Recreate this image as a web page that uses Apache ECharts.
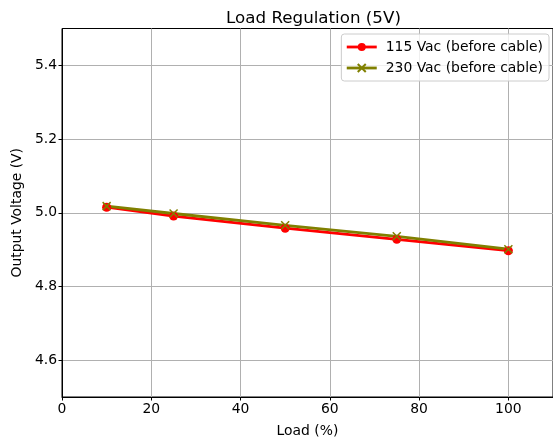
<!DOCTYPE html>
<html><head><meta charset="utf-8">
<script src="https://cdn.jsdelivr.net/npm/echarts@6/dist/echarts.min.js"></script>
<style>html,body{margin:0;padding:0;background:#fff}#c{width:553px;height:443px}</style>
</head><body><div id="c"></div>
<script>
const loads = [10, 25, 50, 75, 100];
const v115 = [5.015, 4.991, 4.958, 4.928, 4.897];
const v230 = [5.018, 4.998, 4.966, 4.936, 4.901];
const yTicks = [4.6, 4.8, 5.0, 5.2, 5.4];
const xTicks = [0, 20, 40, 60, 80, 100];
const names = ['115 Vac (before cable)', '230 Vac (before cable)'];

const font = 'DejaVu Sans';
const fs = 13.9;
const chart = echarts.init(document.getElementById('c'), null, {renderer: 'canvas'});
const xPath = 'path://M0,0L10,10M10,0L0,10';
chart.setOption({
  animation: false,
  title: {text: 'Load Regulation (5V)', left: 308.5, top: 5, textAlign: 'center',
    textStyle: {fontFamily: font, fontSize: 16.7, fontWeight: 'normal', color: '#000'}},
  grid: {left: 62, top: 28.5, width: 494, height: 368.5, containLabel: false,
    show: true, borderColor: '#000', borderWidth: 1, backgroundColor: 'transparent'},
  legend: {
    right: 4, top: 34, orient: 'vertical', itemWidth: 30, itemHeight: 10, itemGap: 7,
    padding: [6, 6, 6, 4], borderColor: '#cccccc', borderWidth: 1, borderRadius: 3,
    backgroundColor: 'rgba(255,255,255,0.8)',
    lineStyle: {width: 2.8},
    textStyle: {fontFamily: font, fontSize: fs, color: '#000', padding: [0, 0, 0, 4]},
    data: names
  },
  xAxis: {
    type: 'value', min: 0, max: 110, interval: 20,
    name: 'Load (%)', nameLocation: 'middle', nameGap: 27,
    nameTextStyle: {fontFamily: font, fontSize: fs, color: '#000'},
    axisLine: {show: true, onZero: false, lineStyle: {color: '#000', width: 1}},
    axisTick: {show: true, length: 3.5, lineStyle: {color: '#000'}, customValues: xTicks},
    axisLabel: {fontFamily: font, fontSize: fs, color: '#000', margin: 5, customValues: xTicks},
    splitLine: {show: true, lineStyle: {color: '#b0b0b0', width: 1}}
  },
  yAxis: {
    type: 'value', min: 4.5, max: 5.5,
    name: 'Output Voltage (V)', nameLocation: 'middle', nameGap: 37, nameRotate: 90,
    nameTextStyle: {fontFamily: font, fontSize: fs, color: '#000'},
    axisLine: {show: true, onZero: false, lineStyle: {color: '#000', width: 1}},
    axisTick: {show: true, length: 3.5, lineStyle: {color: '#000'}, customValues: yTicks},
    axisLabel: {fontFamily: font, fontSize: fs, color: '#000', margin: 5,
      customValues: yTicks, formatter: v => v.toFixed(1)},
    splitLine: {show: true, lineStyle: {color: '#b0b0b0', width: 1}}
  },
  series: [
    {name: names[0], type: 'line', data: loads.map((x, i) => [x, v115[i]]),
      symbol: 'circle', symbolSize: 9, showAllSymbol: true,
      lineStyle: {color: '#ff0000', width: 2.8}, itemStyle: {color: '#ff0000'}},
    {name: names[1], type: 'line', data: loads.map((x, i) => [x, v230[i]]),
      symbol: xPath, symbolSize: 8,
      lineStyle: {color: '#808000', width: 2.8},
      itemStyle: {color: '#808000', borderColor: '#808000', borderWidth: 1.5}}
  ]
});
</script></body></html>
